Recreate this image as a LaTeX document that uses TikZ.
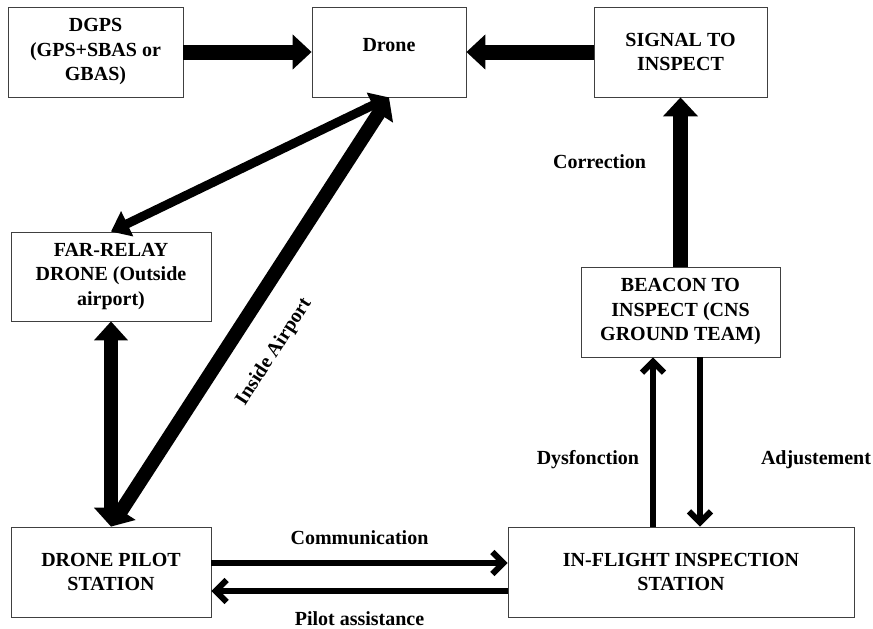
\documentclass[tikz,border=0pt]{standalone}
\usepackage{fontspec}
\setmainfont{Liberation Serif}
\usetikzlibrary{calc}
\usetikzlibrary{arrows.meta}

\begin{document}
\begin{tikzpicture}[x=1pt, y=-1pt,
  box/.style={draw=black!75, line width=.8pt, inner sep=0pt, minimum height=90pt, align=center, font=\fontsize{20}{24.5}\selectfont\bfseries},
  lbl/.style={inner sep=0pt, font=\fontsize{20}{24}\selectfont\bfseries},
  fat/.style={line width=15pt, -{Triangle[length=19pt, width=34pt]}},
  fatboth/.style={line width=14pt, {Triangle[length=19pt, width=33pt]}-{Triangle[length=19pt, width=33pt]}},
  midboth/.style={line width=9pt, {Triangle[length=18pt, width=27pt]}-{Triangle[length=18pt, width=27pt]}},
  slim/.style={line width=6pt, -{Straight Barb[length=11pt, width=22pt]}}]%
  \useasboundingbox (0,0) rectangle (873,629);
  \node[box, minimum width=175pt] (dgps) at (95.5,52) {DGPS\\(GPS+SBAS or\\GBAS)};
  \node[box, minimum width=154pt] (drone) at (389,52) {Drone\\[-17pt]\strut};
  \node[box, minimum width=173pt] (signal) at (680.5,52) {SIGNAL TO\\INSPECT};
  \node[box, minimum width=200pt, minimum height=89pt] (relay) at (111,276.5) {FAR-RELAY\\DRONE (Outside\\airport)};
  \node[box, minimum width=199pt] (beacon) at (680.5,312) {BEACON TO\\INSPECT (CNS\\GROUND TEAM)};
  \node[box, minimum width=200pt] (pilot) at (111,572) {DRONE PILOT\\STATION};
  \node[box, minimum width=346pt] (ifis) at (681,572) {IN-FLIGHT INSPECTION\\STATION};
  \draw[fat] (dgps) -- (drone);
  \draw[fat] (signal) -- (drone);
  \draw[fat] (beacon) -- node[lbl, pos=.62, left=27pt]{Correction} (signal);
  \draw[midboth] (relay.north) -- (drone.south);
  \draw[fatboth] (relay.south) -- (pilot.north);
  \draw[fatboth] (pilot.north) -- node[lbl, pos=.46, sloped, below=26pt]{Inside Airport} (drone.south);
  \draw[slim] ($(pilot.east)+(0,-9)$) -- node[lbl, above=15pt]{Communication} ($(ifis.west)+(0,-9)$);
  \draw[slim] ($(ifis.west)+(0,19)$) -- node[lbl, below=18pt]{Pilot assistance} ($(pilot.east)+(0,19)$);
  \draw[slim] ($(ifis.north)+(-28,0)$) -- node[lbl, pos=.394, left=11pt]{Dysfonction} ($(beacon.south)+(-27.5,0)$);
  \draw[slim] ($(beacon.south)+(19.5,0)$) -- node[lbl, pos=.606, right=58pt]{Adjustement} ($(ifis.north)+(19,0)$);
\end{tikzpicture}
\end{document}
